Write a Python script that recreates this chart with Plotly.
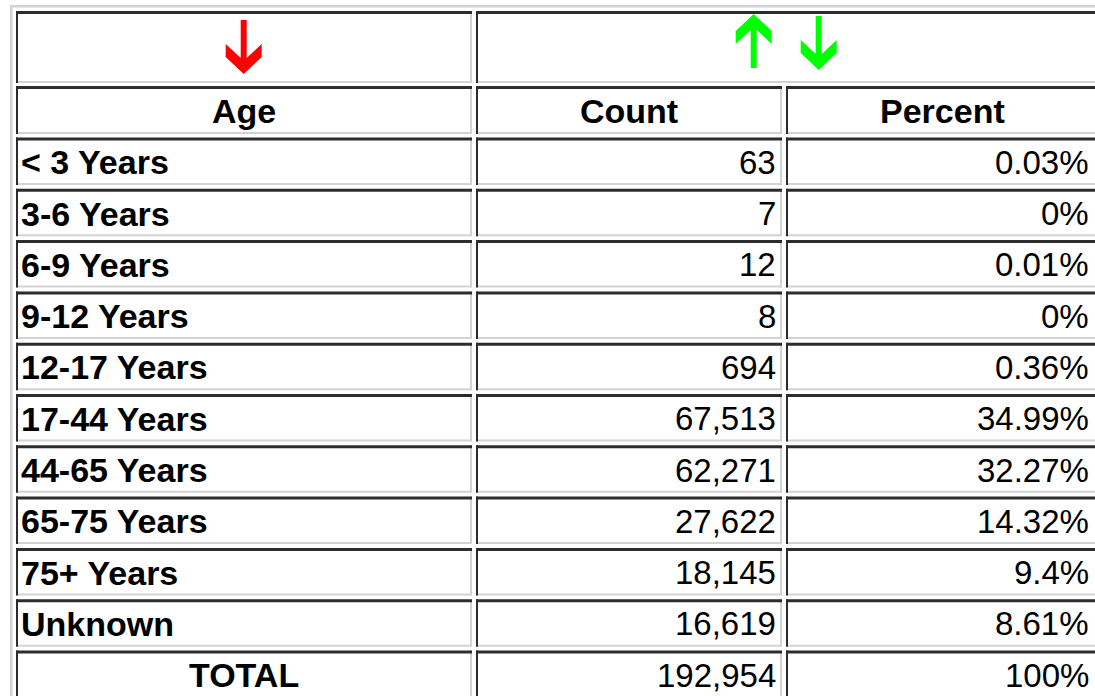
import plotly.graph_objects as go

# ---- data ----
ages = ["< 3 Years", "3-6 Years", "6-9 Years", "9-12 Years", "12-17 Years",
        "17-44 Years", "44-65 Years", "65-75 Years", "75+ Years", "Unknown"]
counts = [63, 7, 12, 8, 694, 67513, 62271, 27622, 18145, 16619]
percents = ["0.03%", "0%", "0.01%", "0%", "0.36%", "34.99%", "32.27%", "14.32%", "9.4%", "8.61%"]
total_label = "TOTAL"
total_count = 192954
total_percent = "100%"
headers = ["Age", "Count", "Percent"]

# ---- layout constants (axis units = window pixels) ----
W, H = 1095, 696
DARK = "#2c2c2c"
LIGHT = "#d3d3d3"
col_left = [16, 476, 786]
col_right = [472, 782, 1098]
h1_top, h1_bot = 11, 83
h2_top, h2_bot = 86, 134
row0_top, row_pitch, row_h = 137.5, 51.3, 47.5

shapes = []
annotations = []


def cell(x0, x1, y0, y1):
    # outset-style border: dark top/left, light bottom/right
    shapes.append(dict(type="rect", x0=x0, x1=x1, y0=y1 - 2, y1=y1, fillcolor=LIGHT, line_width=0, layer="above"))
    shapes.append(dict(type="rect", x0=x1 - 2, x1=x1, y0=y0, y1=y1, fillcolor=LIGHT, line_width=0, layer="above"))
    shapes.append(dict(type="rect", x0=x0, x1=x1, y0=y0, y1=y0 + 3, fillcolor=DARK, line_width=0, layer="above"))
    shapes.append(dict(type="rect", x0=x0, x1=x0 + 2, y0=y0, y1=y1, fillcolor=DARK, line_width=0, layer="above"))


def text(x, y, s, anchor, bold, size):
    annotations.append(dict(x=x, y=y, xref="x", yref="y", text=f"<b>{s}</b>" if bold else s,
                            showarrow=False, xanchor=anchor, yanchor="middle",
                            font=dict(family="Liberation Sans, Arial, sans-serif", size=size, color="black")))


def arrow(cx, tip, direction, color):
    # direction: +1 pointing down, -1 pointing up
    d = direction
    top = tip - d * 54
    pts = [(cx - 3, top), (cx + 3, top), (cx + 3, tip - d * 16), (cx + 18, tip - d * 30),
           (cx + 18, tip - d * 17), (cx, tip), (cx - 18, tip - d * 17), (cx - 18, tip - d * 30),
           (cx - 3, tip - d * 16)]
    path = "M " + " L ".join(f"{x},{y}" for x, y in pts) + " Z"
    shapes.append(dict(type="path", path=path, fillcolor=color, line_width=0, layer="above"))


# outer table border (light, top/left)
shapes.append(dict(type="rect", x0=10, x1=W + 5, y0=5, y1=7.5, fillcolor=LIGHT, line_width=0, layer="above"))
shapes.append(dict(type="rect", x0=10, x1=12.5, y0=5, y1=H + 5, fillcolor=LIGHT, line_width=0, layer="above"))

# header row 1 (sort arrows)
cell(col_left[0], col_right[0], h1_top, h1_bot)
cell(col_left[1], col_right[2], h1_top, h1_bot)
arrow(243.7, 74, 1, "#ff0000")
arrow(753.7, 14, -1, "#00ff00")
arrow(818.7, 70, 1, "#00ff00")

# header row 2
for j, h in enumerate(headers):
    cell(col_left[j], col_right[j], h2_top, h2_bot)
    text((col_left[j] + col_right[j]) / 2, (h2_top + h2_bot) / 2 + 1, h, "center", True, 34)

# data rows
rows = [(a, f"{c:,}", p, False) for a, c, p in zip(ages, counts, percents)]
rows.append((total_label, f"{total_count:,}", total_percent, True))
for i, (a, c, p, is_total) in enumerate(rows):
    y0 = row0_top + row_pitch * i
    y1 = y0 + row_h
    for j in range(3):
        cell(col_left[j], col_right[j], y0, y1)
    ym = (y0 + y1) / 2 + 1
    if is_total:
        text((col_left[0] + col_right[0]) / 2, ym, a, "center", True, 34)
    else:
        text(19, ym, a, "left", True, 34)
    text(778, ym, c, "right", False, 33)
    text(1091, ym, p, "right", False, 33)

fig = go.Figure()
fig.update_layout(
    width=W, height=H,
    margin=dict(l=0, r=0, t=0, b=0),
    paper_bgcolor="white", plot_bgcolor="white",
    xaxis=dict(range=[0, W], visible=False, fixedrange=True),
    yaxis=dict(range=[H, 0], visible=False, fixedrange=True),
    shapes=shapes, annotations=annotations, showlegend=False,
)
fig.write_html(
    "out.html",
    config={"displayModeBar": False},
    post_script="document.body.style.margin='0';document.body.style.overflow='hidden';",
)
